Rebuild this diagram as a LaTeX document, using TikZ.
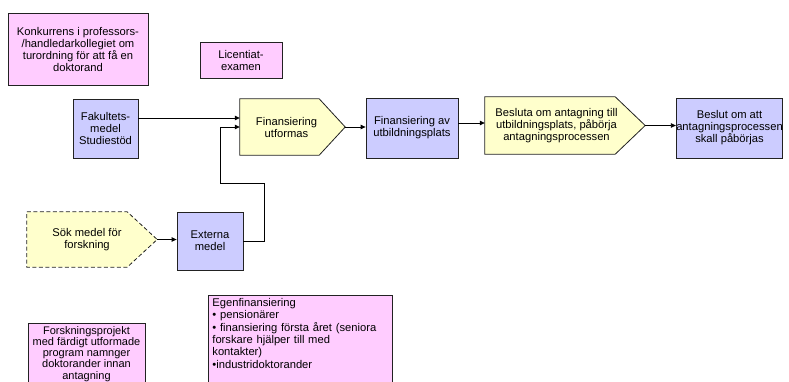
\documentclass[tikz,border=0pt]{standalone}
\usepackage{fontspec}
\setmainfont{Liberation Sans}
\usetikzlibrary{calc,backgrounds,arrows.meta}
\definecolor{pinkfill}{HTML}{FFCCFF}
\definecolor{lavfill}{HTML}{CCCCFF}
\definecolor{yelfill}{HTML}{FFFFCC}
\definecolor{edge}{HTML}{222222}
\tikzset{
  txt/.style={font=\fontsize{11.2}{12}\selectfont, align=center, inner sep=0pt},
  box/.style={txt, draw=edge, line width=0.8pt},
  pinkbox/.style={box, fill=pinkfill},
  lavbox/.style={box, fill=lavfill},
  pentnode/.style={txt, draw=none},
  pentline/.style={draw=edge, line width=0.8pt, fill=yelfill},
  arr/.style={draw=black, line width=0.8pt, -{Triangle[length=5pt,width=4.5pt]}},
  conn/.style={draw=black, line width=0.8pt}
}
\begin{document}
\begin{tikzpicture}[x=1pt,y=-1pt]
\useasboundingbox (0,0) rectangle (789,381);

\node[pinkbox, minimum width=140pt, minimum height=72pt] (konk) at (78,49)
  {Konkurrens i professors-\\/handledarkollegiet om\\turordning för att få en\\doktorand};
\node[pinkbox, minimum width=82pt, minimum height=36pt] (lic) at (241,60.5)
  {Licentiat-\\examen};

\node[lavbox, minimum width=65pt, minimum height=59pt] (fak) at (105.5,128.5)
  {Fakultets-\\medel\\Studiestöd};

\node[pentnode, minimum width=93pt, minimum height=56pt] (finu) at (286.5,127)
  {Finansiering\\utformas};
\coordinate (finutip) at ($(finu.east)+(12,0)$);

\node[lavbox, minimum width=92pt, minimum height=60pt] (fav) at (412,128)
  {Finansiering av\\utbildningsplats};

\node[pentnode, minimum width=143pt, minimum height=57pt] (bes) at (556.5,125.5)
  {Besluta om antagning till\\utbildningsplats, påbörja\\antagningsprocessen};
\coordinate (bestip) at ($(bes.east)+(17,0)$);

\node[lavbox, minimum width=105pt, minimum height=60pt] (beslut) at (729.5,128)
  {Beslut om att\\antagningsprocessen\\skall påbörjas};

\node[pentnode, minimum width=120pt, minimum height=55pt] (sok) at (87,239.5)
  {Sök medel för\\forskning};
\coordinate (soktip) at ($(sok.east)+(10,0)$);

\node[lavbox, minimum width=66pt, minimum height=58pt] (ext) at (210,241)
  {Externa\\medel};

\node[pinkbox, anchor=north, minimum width=117pt, inner ysep=3pt,
  font=\fontsize{11}{11.2}\selectfont] (forsk) at (86.5,323)
  {Forskningsprojekt\\med färdigt utformade\\program namnger\\doktorander innan\\antagning\\~};

\node[pinkbox, anchor=north west, text width=176pt, align=left, inner xsep=4pt,
  inner ysep=3pt, font=\fontsize{11.2}{12.3}\selectfont] (egen) at (208,295)
  {Egenfinansiering\\
   • pensionärer\\
   • finansiering första året (seniora\\
   forskare hjälper till med\\
   kontakter)\\
   •industridoktorander\\
   ~};

\begin{scope}[on background layer]
  \path[pentline] (finu.north west) -- ($(finu.north east)+(-14,0)$) -- (finutip)
    -- ($(finu.south east)+(-14,0)$) -- (finu.south west) -- cycle;
  \path[pentline] (bes.north west) -- ($(bes.north east)+(-13,0)$) -- (bestip)
    -- ($(bes.south east)+(-13,0)$) -- (bes.south west) -- cycle;
  \path[pentline, dashed, dash pattern=on 4pt off 2.5pt] (sok.north west) -- ($(sok.north east)+(-20,0)$) -- (soktip)
    -- ($(sok.south east)+(-20,0)$) -- (sok.south west) -- cycle;
\end{scope}

\coordinate (c1) at (264,183);
\coordinate (c2) at (220,183);

\draw[arr] (fak.east |- 0,118) -- (finu.west |- 0,118);
\draw[conn] (ext.east) -| (c1) -- (c2);
\draw[arr] (c2) |- (finu.west);
\draw[arr] (finutip) -- (finutip -| fav.west);
\draw[arr] (fav.east |- 0,123) -- (bes.west |- 0,123);
\draw[arr] (bestip) -- (bestip -| beslut.west);
\draw[arr] (soktip) -- (soktip -| ext.west);
\end{tikzpicture}
\end{document}
